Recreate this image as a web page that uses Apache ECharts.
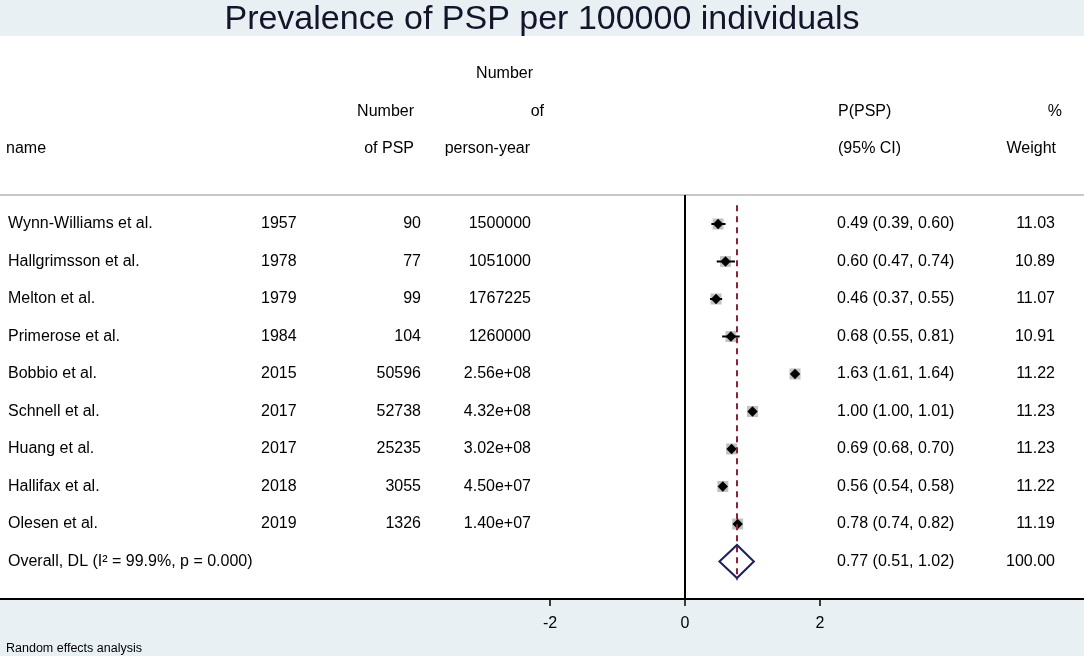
<!DOCTYPE html>
<html>
    <head>
        <meta charset="utf-8">
        <title>Prevalence of PSP per 100000 individuals</title>
        <script src="https://cdn.jsdelivr.net/npm/echarts@6/dist/echarts.min.js"></script>
        <style>
            body { margin: 0; background: #e9f0f3; }
            #chart1 { width: 1084px; height: 656px; }
        </style>
    </head>
    <body>
        <div id="chart1"></div>
    </body>
    <script type="text/javascript">
        // study data
        const names = ['Wynn-Williams et al.', 'Hallgrimsson et al.', 'Melton et al.', 'Primerose et al.',
                       'Bobbio et al.', 'Schnell et al.', 'Huang et al.', 'Hallifax et al.', 'Olesen et al.'];
        const years = [1957, 1978, 1979, 1984, 2015, 2017, 2017, 2018, 2019];
        const numPSP = [90, 77, 99, 104, 50596, 52738, 25235, 3055, 1326];
        const personYears = ['1500000', '1051000', '1767225', '1260000', '2.56e+08', '4.32e+08', '3.02e+08', '4.50e+07', '1.40e+07'];
        const est = [0.49, 0.60, 0.46, 0.68, 1.63, 1.00, 0.69, 0.56, 0.78];
        const lower = [0.39, 0.47, 0.37, 0.55, 1.61, 1.00, 0.68, 0.54, 0.74];
        const upper = [0.60, 0.74, 0.55, 0.81, 1.64, 1.01, 0.70, 0.58, 0.82];
        const weights = [11.03, 10.89, 11.07, 10.91, 11.22, 11.23, 11.23, 11.22, 11.19];

        // pooled estimate
        const overallLabel = 'Overall, DL (I\u00B2 = 99.9%, p = 0.000)';
        const overall = [0.77, 0.51, 1.02];
        const overallWeight = 100.00;

        const xTicks = [-2, 0, 2];

        // header lines sit above the first study row
        const headerRows = [-4, -3, -2];

        const FONT = "'Liberation Sans', Arial, sans-serif";
        const FS = 16;
        const myChart1 = echarts.init(document.getElementById('chart1'));

        // column positions on the pixel axis (x, align)
        const col = {
            name: [8, 'left'], year: [261, 'left'], num: [421, 'right'],
            py: [531, 'right'], ci: [837, 'left'], wt: [1055, 'right']
        };

        const texts = [];
        const put = (c, row, s) => texts.push([c[0], row, s, c[1]]);

        put([533, 'right'], headerRows[0], 'Number');
        put([414, 'right'], headerRows[1], 'Number');
        put([544, 'right'], headerRows[1], 'of');
        put([838, 'left'], headerRows[1], 'P(PSP)');
        put([1062, 'right'], headerRows[1], '%');
        put([6, 'left'], headerRows[2], 'name');
        put([414, 'right'], headerRows[2], 'of PSP');
        put([530, 'right'], headerRows[2], 'person-year');
        put([838, 'left'], headerRows[2], '(95% CI)');
        put([1056, 'right'], headerRows[2], 'Weight');

        names.forEach((n, i) => {
            put(col.name, i, n);
            put(col.year, i, String(years[i]));
            put(col.num, i, String(numPSP[i]));
            put(col.py, i, personYears[i]);
            put(col.ci, i, est[i].toFixed(2) + ' (' + lower[i].toFixed(2) + ', ' + upper[i].toFixed(2) + ')');
            put(col.wt, i, weights[i].toFixed(2));
        });
        const oRow = names.length;
        put(col.name, oRow, overallLabel);
        put(col.ci, oRow, overall[0].toFixed(2) + ' (' + overall[1].toFixed(2) + ', ' + overall[2].toFixed(2) + ')');
        put(col.wt, oRow, overallWeight.toFixed(2));

        const studyData = est.map((e, i) => [e, i, lower[i], upper[i], weights[i]]);

        const xMin = -10.148, xMax = 5.911;
        const sepRow = -0.773;

        myChart1.setOption({
            backgroundColor: '#e9f0f3',
            animation: false,
            title: [{
                text: 'Prevalence of PSP per 100000 individuals',
                left: 'center',
                top: -2,
                textStyle: { fontFamily: FONT, fontSize: 34, fontWeight: 'normal', color: '#14142a' }
            }, {
                text: 'Random effects analysis',
                left: 1,
                top: 637,
                textStyle: { fontFamily: FONT, fontSize: 12.5, fontWeight: 'normal', color: '#000' }
            }],
            grid: {
                left: 0, right: 0, top: 36, bottom: 57,
                show: true, backgroundColor: '#fff', borderWidth: 0
            },
            xAxis: [{
                type: 'value',
                min: xMin, max: xMax,
                axisLine: { show: true, onZero: false, lineStyle: { color: '#000', width: 2 } },
                axisTick: { show: true, customValues: xTicks, length: 7, lineStyle: { color: '#000', width: 1.5 } },
                axisLabel: { customValues: xTicks, fontFamily: FONT, fontSize: FS, color: '#000', margin: 17 },
                splitLine: { show: false }
            }, {
                type: 'value',
                min: 0, max: 1084,
                show: false
            }],
            yAxis: {
                type: 'value',
                min: -5.013, max: 10,
                inverse: true,
                show: false
            },
            series: [{
                type: 'custom',
                name: 'text',
                xAxisIndex: 1,
                silent: true,
                data: texts,
                renderItem: function (params, api) {
                    const d = texts[params.dataIndex];
                    const p = api.coord([d[0], d[1]]);
                    return {
                        type: 'text',
                        x: p[0], y: p[1],
                        style: {
                            text: d[2],
                            textAlign: d[3], align: d[3],
                            textVerticalAlign: 'middle', verticalAlign: 'middle',
                            fontFamily: FONT, fontSize: FS, fill: '#000'
                        }
                    };
                }
            }, {
                type: 'custom',
                name: 'studies',
                silent: true,
                data: studyData,
                renderItem: function (params, api) {
                    const row = api.value(1);
                    const c = api.coord([api.value(0), row]);
                    const l = api.coord([api.value(2), row]);
                    const h = api.coord([api.value(3), row]);
                    const b = 5.5 * Math.sqrt(api.value(4) / 11.2);
                    const d = 5.2;
                    return {
                        type: 'group',
                        children: [{
                            type: 'rect',
                            shape: { x: c[0] - b, y: c[1] - b, width: 2 * b, height: 2 * b },
                            style: { fill: '#c2c2c2' }
                        }, {
                            type: 'line',
                            shape: { x1: l[0], y1: c[1], x2: h[0], y2: c[1] },
                            style: { stroke: '#000', lineWidth: 2 }
                        }, {
                            type: 'polygon',
                            shape: { points: [[c[0] - d, c[1]], [c[0], c[1] - d], [c[0] + d, c[1]], [c[0], c[1] + d]] },
                            style: { fill: '#000' }
                        }]
                    };
                },
                markLine: {
                    silent: true,
                    symbol: 'none',
                    label: { show: false },
                    data: [
                        [{ coord: [xMin, sepRow], lineStyle: { color: '#c8c8c8', width: 2, type: 'solid' } }, { coord: [xMax, sepRow] }],
                        [{ coord: [0, sepRow], lineStyle: { color: '#000', width: 2, type: 'solid' } }, { coord: [0, 10] }],
                        [{ coord: [overall[0], -0.5], lineStyle: { color: '#8e2234', width: 2, type: [6, 5] } }, { coord: [overall[0], oRow + 0.5] }]
                    ]
                }
            }, {
                type: 'custom',
                name: 'overall',
                silent: true,
                z: 5,
                data: [[overall[0], oRow, overall[1], overall[2]]],
                renderItem: function (params, api) {
                    const row = api.value(1);
                    const c = api.coord([api.value(0), row]);
                    const l = api.coord([api.value(2), row]);
                    const h = api.coord([api.value(3), row]);
                    const hh = 16.5;
                    return {
                        type: 'polygon',
                        shape: { points: [[l[0], c[1]], [c[0], c[1] - hh], [h[0], c[1]], [c[0], c[1] + hh]] },
                        style: { fill: 'none', stroke: '#1a1f5e', lineWidth: 2 }
                    };
                }
            }]
        });
    </script>
</html>
